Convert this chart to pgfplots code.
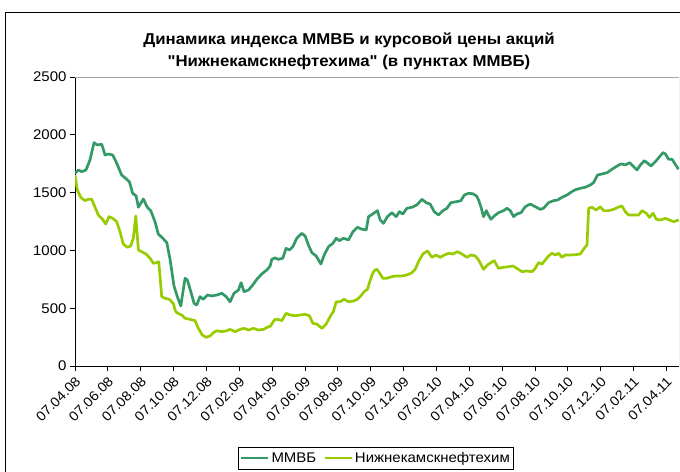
\documentclass[border=0pt]{standalone}
\usepackage{fontspec}
\setmainfont{Liberation Sans}[FakeStretch=1.07]
\newfontfamily\titlefont{Liberation Sans}[FakeStretch=1.07]
\usepackage{pgfplots}
\pgfplotsset{compat=1.18}
\usepackage{pgfplotstable}
\definecolor{mmvb}{RGB}{51,153,102}
\definecolor{nknh}{RGB}{153,204,0}
\pgfplotstableread{
m v
0 1667
0.20 1696
0.41 1681
0.67 1696
0.91 1782
1.16 1932
1.36 1912
1.63 1918
1.83 1825
2.03 1834
2.30 1825
2.54 1754
2.84 1652
3.15 1615
3.31 1594
3.51 1494
3.72 1471
3.86 1373
4.16 1445
4.40 1373
4.61 1344
4.87 1248
5.07 1142
5.34 1105
5.59 1067
5.79 920
6.03 690
6.23 600
6.44 519
6.70 759
6.84 744
7.05 643
7.25 542
7.41 528
7.61 600
7.81 577
8.06 614
8.33 606
8.63 614
8.94 629
9.20 600
9.44 556
9.68 629
9.95 657
10.11 721
10.29 643
10.56 657
10.82 701
11.07 750
11.37 796
11.68 831
11.88 865
11.98 923
12.18 935
12.38 923
12.65 932
12.85 1018
13.05 1003
13.26 1032
13.50 1105
13.81 1148
14.01 1125
14.21 1047
14.42 980
14.68 952
14.97 882
15.17 960
15.43 1032
15.70 1061
15.90 1105
16.10 1084
16.34 1105
16.65 1090
16.92 1162
17.20 1200
17.46 1183
17.73 1177
17.87 1292
18.07 1310
18.27 1330
18.41 1344
18.58 1263
18.78 1234
19.02 1292
19.29 1326
19.55 1292
19.75 1335
19.96 1315
20.20 1364
20.51 1373
20.81 1393
21.12 1442
21.38 1413
21.62 1401
21.87 1335
22.13 1306
22.40 1344
22.64 1364
22.88 1413
23.21 1421
23.49 1430
23.70 1479
23.96 1494
24.22 1490
24.45 1470
24.57 1436
24.71 1378
24.87 1292
25.04 1344
25.17 1306
25.32 1269
25.52 1298
25.78 1326
26.09 1344
26.30 1364
26.50 1344
26.70 1292
26.90 1315
27.15 1326
27.41 1378
27.71 1401
28.02 1378
28.32 1355
28.52 1364
28.83 1413
29.13 1430
29.38 1436
29.64 1459
29.95 1479
30.25 1508
30.46 1525
30.76 1537
31.06 1546
31.37 1566
31.57 1586
31.81 1652
32.08 1661
32.39 1672
32.69 1702
33.00 1730
33.24 1748
33.50 1739
33.76 1759
33.97 1730
34.21 1696
34.42 1739
34.66 1776
34.86 1754
35.07 1730
35.33 1767
35.59 1811
35.80 1846
35.94 1834
36.14 1788
36.35 1788
36.61 1730
36.75 1702
}\mmvbtable
\pgfplotstableread{
m v
0 1652
0.14 1523
0.35 1459
0.61 1430
0.81 1442
1.02 1442
1.22 1373
1.42 1306
1.66 1272
1.87 1228
2.07 1292
2.30 1277
2.54 1248
2.74 1162
2.94 1055
3.19 1027
3.39 1038
3.55 1105
3.70 1298
3.86 1003
4.06 989
4.32 969
4.57 932
4.77 888
4.98 894
5.10 902
5.28 600
5.48 586
5.74 577
5.99 540
6.09 484
6.19 461
6.50 441
6.70 413
7.00 404
7.31 392
7.51 326
7.75 268
7.98 248
8.22 260
8.42 288
8.63 305
8.94 297
9.24 305
9.44 317
9.75 297
10.05 317
10.29 326
10.56 311
10.86 326
11.16 311
11.47 317
11.71 335
11.90 345
12.14 400
12.32 404
12.59 392
12.85 456
13.10 441
13.40 435
13.70 441
14.01 447
14.27 435
14.48 369
14.72 363
15.03 326
15.29 363
15.53 427
15.73 470
15.90 556
16.14 556
16.38 577
16.65 556
16.95 562
17.20 577
17.40 606
17.60 643
17.80 663
17.97 740
18.13 805
18.27 831
18.38 836
18.53 807
18.74 759
18.99 759
19.29 773
19.59 779
19.90 779
20.20 787
20.51 807
20.71 836
20.91 902
21.18 969
21.46 995
21.73 940
21.99 960
22.23 940
22.48 960
22.74 975
23.01 969
23.29 989
23.55 969
23.86 940
24.10 960
24.37 952
24.57 917
24.87 836
25.11 874
25.32 894
25.52 911
25.78 845
26.09 854
26.39 859
26.66 865
26.90 845
27.21 816
27.51 822
27.82 816
28.02 845
28.22 894
28.43 882
28.63 917
28.83 952
29.04 975
29.24 960
29.44 975
29.64 940
29.85 960
30.15 960
30.46 963
30.76 969
31.00 1018
31.17 1047
31.27 1364
31.47 1373
31.73 1350
31.98 1378
32.18 1344
32.48 1344
32.79 1355
33.06 1373
33.30 1384
33.50 1335
33.70 1306
34.01 1306
34.31 1306
34.52 1344
34.78 1321
34.98 1286
35.19 1321
35.39 1269
35.63 1263
35.94 1277
36.20 1263
36.44 1248
36.75 1263
}\nknhtable
\begin{document}
\begin{tikzpicture}
\useasboundingbox (0,0) rectangle (680bp,472bp);
\draw[line width=0.9pt] (5bp,-10bp) -- (5bp,460bp) -- (700bp,460bp);
\node[font=\titlefont\bfseries\fontsize{15.7bp}{22bp}\selectfont, align=center, inner sep=0pt] at (349bp,421bp)
  {Динамика индекса ММВБ и курсовой цены акций\\"Нижнекамскнефтехима" (в пунктах ММВБ)};
\begin{axis}[
  at={(75bp,106bp)}, anchor=south west,
  scale only axis, width=604bp, height=289bp,
  xmin=0, xmax=36.77, ymin=0, ymax=2500,
  axis x line*=bottom, axis y line*=left,
  axis line style={black, line width=0.8pt},
  tick align=outside, major tick length=5bp,
  tick style={black, line width=0.8pt},
  xtick={0,2,...,36},
  xticklabels={07.04.08,07.06.08,07.08.08,07.10.08,07.12.08,07.02.09,07.04.09,07.06.09,07.08.09,07.10.09,07.12.09,07.02.10,07.04.10,07.06.10,07.08.10,07.10.10,07.12.10,07.02.11,07.04.11},
  xticklabel style={rotate=45, anchor=north east, inner sep=1pt, font=\fontsize{13.5bp}{15bp}\selectfont, xshift=-2.5bp, yshift=-2bp},
  ytick={0,500,...,2500},
  yticklabel style={font=\fontsize{14bp}{15bp}\selectfont},
  /pgf/number format/assume math mode=true,
  /pgf/number format/1000 sep={},
  legend columns=2,
  legend style={at={(0.498,-0.28)}, anchor=north, draw=black, line width=0.6pt,
    font=\fontsize{14bp}{16bp}\selectfont, inner xsep=2pt, inner ysep=3pt,
    /tikz/every even column/.append style={column sep=5bp}},
  legend image code/.code={\draw[#1] (0bp,0bp) -- (27bp,0bp);},
]
\draw[gray!70, line width=0.8pt] (rel axis cs:0,1) -- (rel axis cs:1,1) -- (rel axis cs:1,0);
\addplot[mmvb, line width=2.7pt, line join=round] table[x=m,y=v] {\mmvbtable};
\addplot[nknh, line width=2.7pt, line join=round] table[x=m,y=v] {\nknhtable};
\legend{ММВБ, Нижнекамскнефтехим}
\end{axis}
\end{tikzpicture}
\end{document}
